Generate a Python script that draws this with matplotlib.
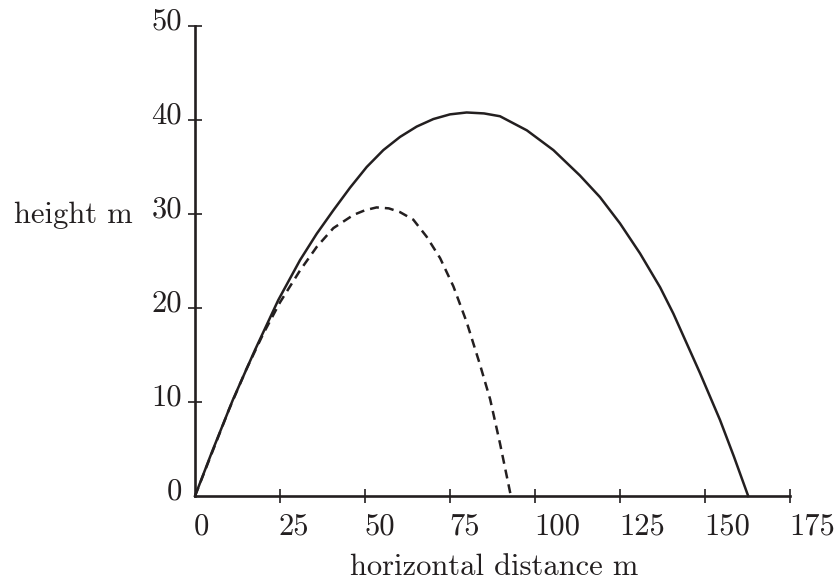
import matplotlib
matplotlib.use("Agg")
import matplotlib.pyplot as plt
from matplotlib.transforms import offset_copy

plt.rcParams.update({"font.family": "cmr10", "font.size": 22,
                     "axes.formatter.use_mathtext": True})
INK = "#231f20"

# values
solid_x = [0, 5, 11.1, 17.6, 24.5, 30.9, 35.8, 40.7, 45.6, 50.5, 55.4, 60.3, 65.2, 70.1, 75,
           79.9, 85, 89.7, 97.6, 105.4, 113.2, 119.1, 125, 130.9, 136.8, 140.7, 148.5,
           154.4, 158.5, 162.7]
solid_y = [0, 4.7, 10.2, 15.5, 20.85, 25.1, 27.9, 30.4, 32.8, 35.0, 36.8, 38.2, 39.3, 40.1, 40.6,
           40.8, 40.7, 40.4, 38.9, 36.8, 34.1, 31.8, 29.0, 25.8, 22.2, 19.4, 13.1,
           8.1, 4.2, 0]
dash_x = [0, 5, 10, 15, 20, 25, 30.9, 35.8, 40.7, 46.6, 50, 53.4, 57, 60.3, 64.2, 68.1,
          72.1, 76.0, 79.9, 83.8, 86.8, 89.7, 92.9]
dash_y = [0, 4.6, 9.2, 13.4, 17.2, 20.6, 24.0, 26.5, 28.5, 29.9, 30.4, 30.7, 30.6, 30.2, 29.4, 27.6,
          25.3, 22.3, 18.5, 14.0, 10.3, 5.6, 0]
xticks = [25, 50, 75, 100, 125, 150, 175]
xtick_labels = ["0", "25", "50", "75", "100", "125", "150", "175"]
yticks = [0, 10, 20, 30, 40, 50]

fig = plt.figure(figsize=(8.39, 5.85), dpi=100)
ax = fig.add_axes([195/839, 89/585, 595/839, 470/585])
ax.set_xlim(0, 175); ax.set_ylim(0, 50)
for s in ["top", "right"]:
    ax.spines[s].set_visible(False)
for s in ["left", "bottom"]:
    ax.spines[s].set_linewidth(1.9); ax.spines[s].set_color(INK)

ax.plot(solid_x, solid_y, color=INK, lw=1.8, clip_on=False, solid_joinstyle="round")
ax.plot(dash_x, dash_y, color=INK, lw=1.8, dashes=(3.6, 2.4), clip_on=False)

ax.set_xticks(xticks); ax.set_yticks([t for t in yticks if t > 0])
ax.tick_params(direction="inout", length=10, width=1.2, color=INK,
               labelbottom=False, labelleft=False)

# tick labels: x labels start at the tick, y labels sit a bit above it
for v, lab in zip([0] + xticks, xtick_labels):
    tr = offset_copy(ax.get_xaxis_transform(), fig=fig, x=-1, y=-17, units="dots")
    ax.text(v, 0, lab, transform=tr, ha="left", va="top", color=INK)
for v in yticks:
    tr = offset_copy(ax.get_yaxis_transform(), fig=fig, x=-13, y=4, units="dots")
    ax.text(0, v, str(v), transform=tr, ha="right", va="center", color=INK)

fig.text(133/839, 1 - 223/585, "height m", ha="right", va="baseline", color=INK)
fig.text(494/839, 1 - 575/585, "horizontal distance m", ha="center", va="baseline", color=INK)

fig.savefig("out.png", dpi=100)
